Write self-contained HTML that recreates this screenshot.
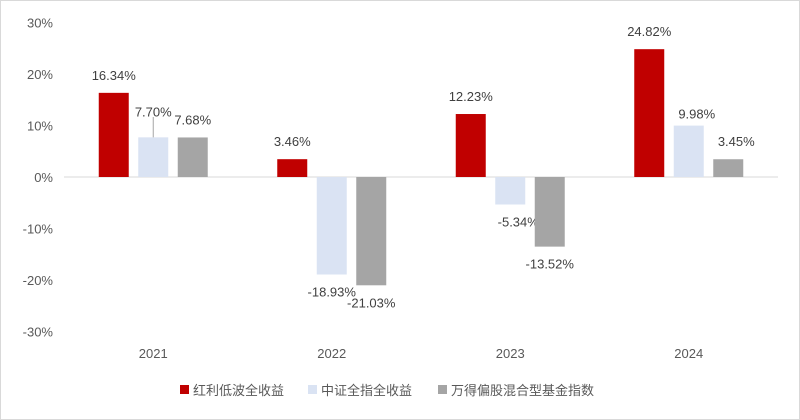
<!DOCTYPE html>
<html><head><meta charset="utf-8"><style>
body{margin:0;background:#fff;}
svg{display:block;font-family:"Liberation Sans","Noto Sans CJK SC",sans-serif;}
</style></head><body>
<svg id="c" width="800" height="420">
<rect x="0.5" y="0.5" width="799" height="419" fill="#fff" stroke="#d9d9d9"/>
</svg>
<script>
const categories=["2021","2022","2023","2024"];
const seriesNames=["红利低波全收益","中证全指全收益","万得偏股混合型基金指数"];
const redValues=[16.34,3.46,12.23,24.82];
const blueValues=[7.70,-18.93,-5.34,9.98];
const grayValues=[7.68,-21.03,-13.52,3.45];
const yTicks=[30,20,10,0,-10,-20,-30];
const colors=["#c00000","#dae3f3","#a5a5a5"];
const labelNudge=[[[0,0],[0,8],[0,0]],[[0,0],[0,20],[0,32]],[[0,0],[8,0],[0,0]],[[0,0],[8,-6],[8,0]]];
const svg=document.getElementById('c');
const NS="http://www.w3.org/2000/svg";
const x0=64,x1=778,bw=30,gap=9.5;
const yS=v=>177-v*5.15;
const band=(x1-x0)/categories.length;
const xC=i=>x0+band*(i+0.5);
function mk(t,a,txt){const e=document.createElementNS(NS,t);for(const k in a)e.setAttribute(k,a[k]);if(txt!==undefined)e.textContent=txt;svg.appendChild(e);return e;}
yTicks.forEach(t=>{
 const e=mk('text',{x:53,y:yS(t)+5,'text-anchor':'end','font-size':13,fill:'#595959'},t+'%');
 
 
});
const zl=mk('line',{x1:x0,x2:x1,y1:yS(0),y2:yS(0),stroke:'#d9d9d9','stroke-width':1});


categories.forEach((c,i)=>{
 const e=mk('text',{x:xC(i),y:358,'text-anchor':'middle','font-size':13,fill:'#595959'},c);
 
 
});
const all=[redValues,blueValues,grayValues];
all.forEach((vals,s)=>{
 vals.forEach((v,i)=>{
  const cx=xC(i)+(s-1)*(bw+gap);
  const top=Math.min(yS(v),yS(0)),h=Math.abs(yS(v)-yS(0));
  const r=mk('rect',{x:cx-bw/2,y:top,width:bw,height:h,fill:colors[s]});
  
  
  const n=labelNudge[i][s];
  const ly=v>=0?yS(v)-13+(-n[1]):yS(v)+22+n[1]-(n[1]?n[1]:0)+n[1];
  const lbl=mk('text',{x:cx+n[0],y:v>=0?yS(v)-13-n[1]*0:yS(v)+22,'text-anchor':'middle','font-size':13,fill:'#404040'},v.toFixed(2)+'%');
  if(v>=0&&n[1]){lbl.setAttribute('y',yS(v)-13-n[1]);}
  if(v<0&&n[1]){lbl.setAttribute('y',yS(v)+22+n[1]-n[1]);}
  
  
 });
});
// leader line for 2021 blue label
const ll=mk('line',{x1:xC(0),x2:xC(0),y1:117,y2:yS(blueValues[0]),stroke:'#a5a5a5'});


const legX=[180,308,438];
seriesNames.forEach((n,s)=>{
 const r=mk('rect',{x:legX[s],y:385,width:9,height:9,fill:colors[s]});
 
 
 const t=mk('text',{x:legX[s]+13,y:395,'font-size':13,fill:'#595959'},n);
 
 
});
</script>
</body></html>
